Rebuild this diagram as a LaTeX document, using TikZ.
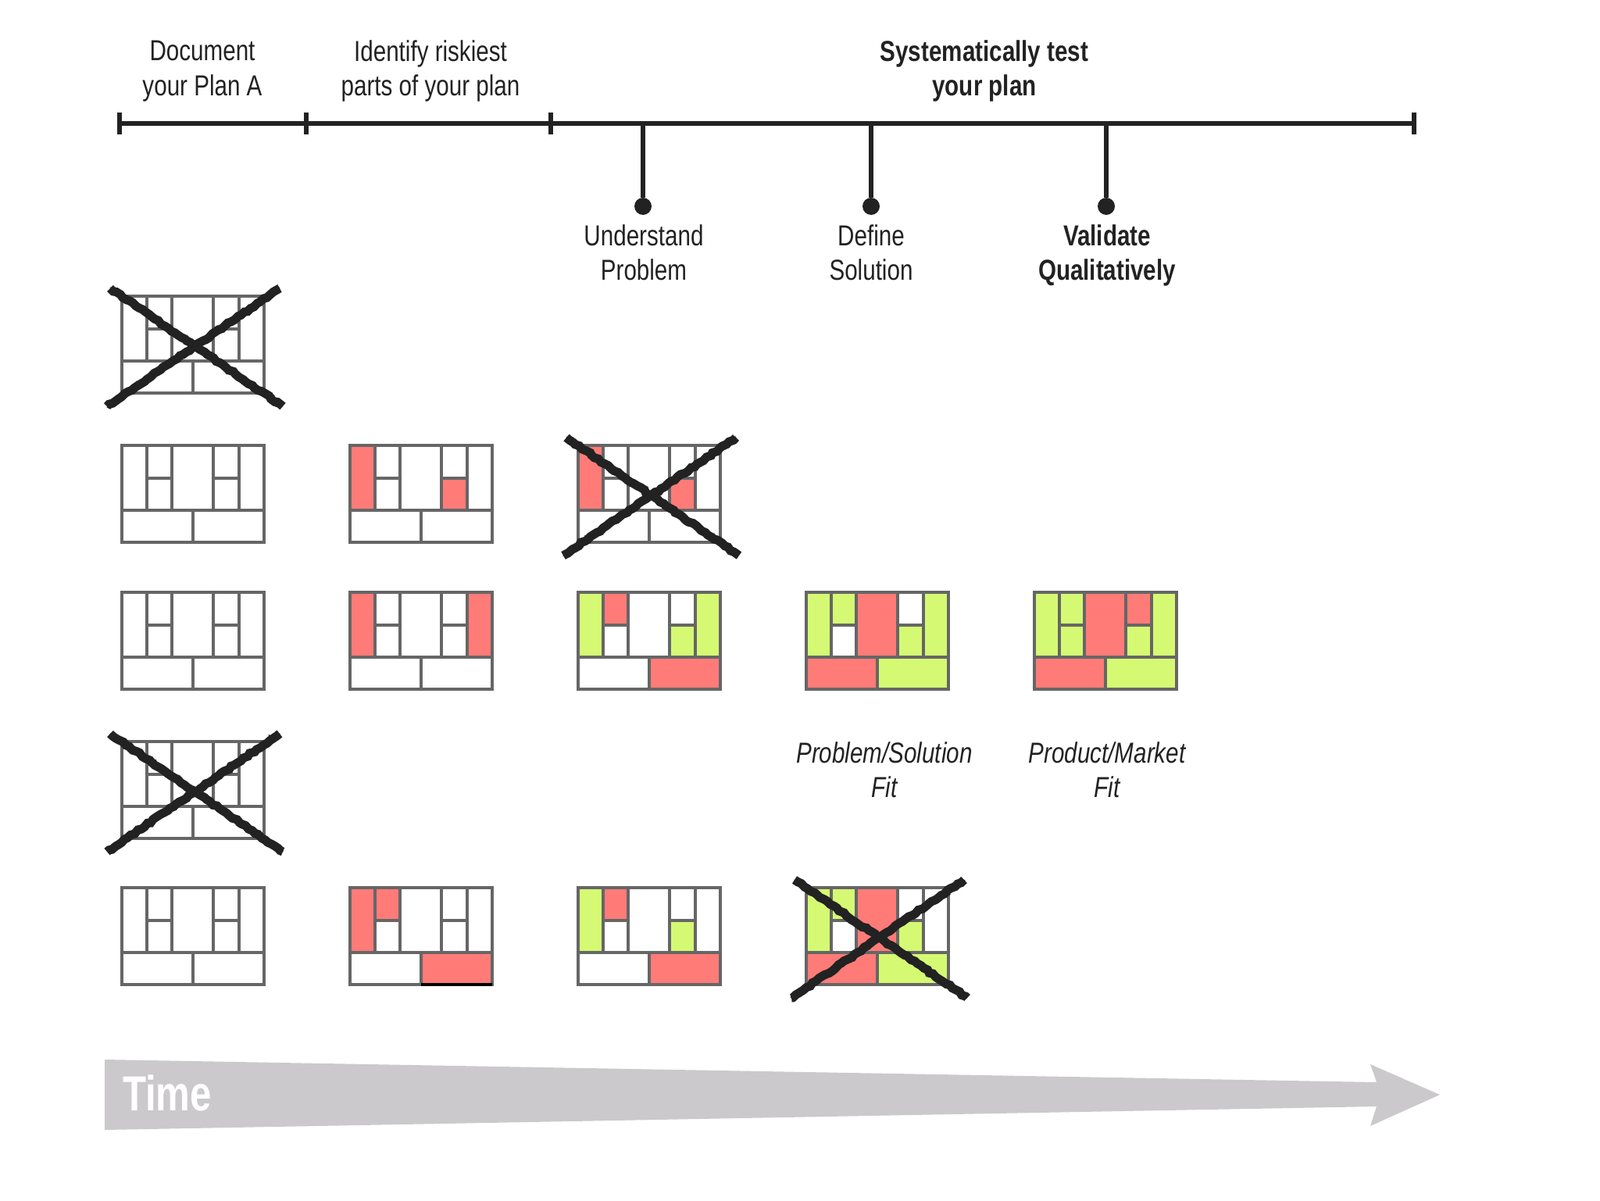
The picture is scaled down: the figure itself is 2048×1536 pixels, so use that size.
\documentclass[tikz,border=0pt]{standalone}
\usepackage{fontspec}
\usepackage{xcolor}
\setmainfont{Liberation Sans}[FakeStretch=0.8]
\newfontfamily\timefont{Liberation Sans}[FakeStretch=0.78]
\usetikzlibrary{decorations.pathmorphing}
\definecolor{planred}{RGB}{255,123,120}
\definecolor{plangreen}{RGB}{213,249,115}
\definecolor{gridline}{RGB}{102,102,102}
\definecolor{darkline}{RGB}{34,34,34}
\definecolor{timegray}{RGB}{203,201,204}

% cells of one canvas, in pixels from its top left corner
\tikzset{
    cella/.style={insert path={(0,0) rectangle (32,83)}},
    cellb/.style={insert path={(32,0) rectangle (64,42)}},
    cellc/.style={insert path={(32,42) rectangle (64,83)}},
    celld/.style={insert path={(64,0) rectangle (117,83)}},
    celle/.style={insert path={(117,0) rectangle (150,42)}},
    cellf/.style={insert path={(117,42) rectangle (150,83)}},
    cellg/.style={insert path={(150,0) rectangle (182,83)}},
    cellh/.style={insert path={(0,83) rectangle (91,124)}},
    celli/.style={insert path={(91,83) rectangle (182,124)}}
}

\newcommand{\canvas}[4]{
    \coordinate (#1) at (#2,#3);
    \begin{scope}[shift={(#1)}]
        \foreach \c/\col in {#4} { \fill[\col, cell\c]; }
        \draw[gridline, line width=2pt] (0,0) rectangle (182,124);
        \draw[gridline, line width=2pt] (32,0) -- (32,83) (64,0) -- (64,83) (117,0) -- (117,83) (150,0) -- (150,83);
        \draw[gridline, line width=2pt] (0,83) -- (182,83) (91,83) -- (91,124) (32,42) -- (64,42) (117,42) -- (150,42);
    \end{scope}
}

\newcommand{\crossout}[1]{
    \draw[crossline] ([shift={(-15,-10)}]#1) -- ([shift={(206,141)}]#1);
    \draw[crossline] ([shift={(202,-10)}]#1) -- ([shift={(-19,141)}]#1);
    \draw[crossrough] ([shift={(-15,-10)}]#1) -- ([shift={(206,141)}]#1);
    \draw[crossrough] ([shift={(202,-10)}]#1) -- ([shift={(-19,141)}]#1);
}

\begin{document}
\begin{tikzpicture}[
        x=0.5pt, y=-0.5pt,
        label/.style={align=center, inner sep=0pt, font=\fontsize{18.5}{22.2}\selectfont, text=darkline},
        strong/.style={label, font=\fontsize{18.5}{22.2}\selectfont\bfseries},
        fit/.style={label, font=\fontsize{18.5}{22.2}\selectfont\itshape},
        axis/.style={darkline, line width=3pt},
        tickmark/.style={darkline, line width=3pt},
        stem/.style={darkline, line width=2.6pt},
        dot/.style={circle, fill=darkline, minimum size=11pt, inner sep=0pt},
        crossline/.style={darkline, line width=5.6pt, decorate, decoration={random steps, segment length=2.5pt, amplitude=0.6pt}},
        crossrough/.style={darkline, line width=1.4pt, dash pattern=on 2pt off 1.5pt, decorate, decoration={random steps, segment length=3pt, amplitude=2.2pt}}
    ]
    \useasboundingbox (0,0) rectangle (2048,1536);

    % Timeline
    \coordinate (tstart) at (153,158);
    \coordinate (tplan) at (392,158);
    \coordinate (trisk) at (705,158);
    \coordinate (tend) at (1810,158);
    \coordinate (tunderstand) at (823,158);
    \coordinate (tdefine) at (1115,158);
    \coordinate (tvalidate) at (1416,158);
    \draw[axis] (tstart) -- (tend);
    \foreach \t in {tstart,tplan,trisk,tend} {
        \draw[tickmark] ([yshift=-7pt]\t) -- ([yshift=7pt]\t);
    }
    \node[dot] (understand) at (823,264) {};
    \node[dot] (define) at (1115,264) {};
    \node[dot] (validate) at (1416,264) {};
    \draw[stem] (tunderstand) -- (understand);
    \draw[stem] (tdefine) -- (define);
    \draw[stem] (tvalidate) -- (validate);

    % Labels
    \node[label] (document) at (259,91) {Document\\your Plan A};
    \node[label] (identify) at (551,91) {Identify riskiest\\parts of your plan};
    \node[strong] (systematic) at (1260,91) {Systematically test\\your plan};
    \node[label] (problem) at (824,323) {Understand\\Problem};
    \node[label] (solution) at (1115,323) {Define\\Solution};
    \node[strong] (qualitative) at (1417,327) {Validate\\Qualitatively};
    \node[fit] (psfit) at (1132,985) {Problem/Solution\\Fit};
    \node[fit] (pmfit) at (1417,985) {Product/Market\\Fit};

    % Row 0
    \canvas{plana}{156}{379}{a/white}
    \crossout{plana}

    % Row 1
    \canvas{planb}{156}{570}{a/white}
    \canvas{riskb}{448}{570}{a/planred,f/planred}
    \canvas{testb}{740}{570}{a/planred,f/planred}
    \crossout{testb}

    % Row 2
    \canvas{planc}{156}{758}{a/white}
    \canvas{riskc}{448}{758}{a/planred,g/planred}
    \canvas{testc}{740}{758}{a/plangreen,b/planred,f/plangreen,g/plangreen,i/planred}
    \canvas{solvec}{1032}{758}{a/plangreen,b/plangreen,d/planred,f/plangreen,g/plangreen,h/planred,i/plangreen}
    \canvas{marketc}{1324}{758}{a/plangreen,b/plangreen,c/plangreen,d/planred,e/planred,f/plangreen,g/plangreen,h/planred,i/plangreen}

    % Row 3
    \canvas{pland}{156}{949}{a/white}
    \crossout{pland}

    % Row 4
    \canvas{plane}{156}{1136}{a/white}
    \canvas{riske}{448}{1136}{a/planred,b/planred,i/planred}
    \draw[black, line width=2pt] ([shift={(91,124)}]riske) -- ([shift={(182,124)}]riske);
    \canvas{teste}{740}{1136}{a/plangreen,b/planred,f/plangreen,i/planred}
    \canvas{solvee}{1032}{1136}{a/plangreen,b/plangreen,d/planred,f/plangreen,h/planred,i/plangreen}
    \crossout{solvee}

    % Time arrow
    \fill[timegray] (134,1356) -- (1762,1385) -- (1754,1362) -- (1843,1401) -- (1754,1441) -- (1762,1416) -- (134,1446) -- cycle;
    \node[inner sep=0pt, text=white, font=\timefont\fontsize{31.5}{34}\selectfont\bfseries] (time) at (214,1399) {Time};
\end{tikzpicture}
\end{document}
